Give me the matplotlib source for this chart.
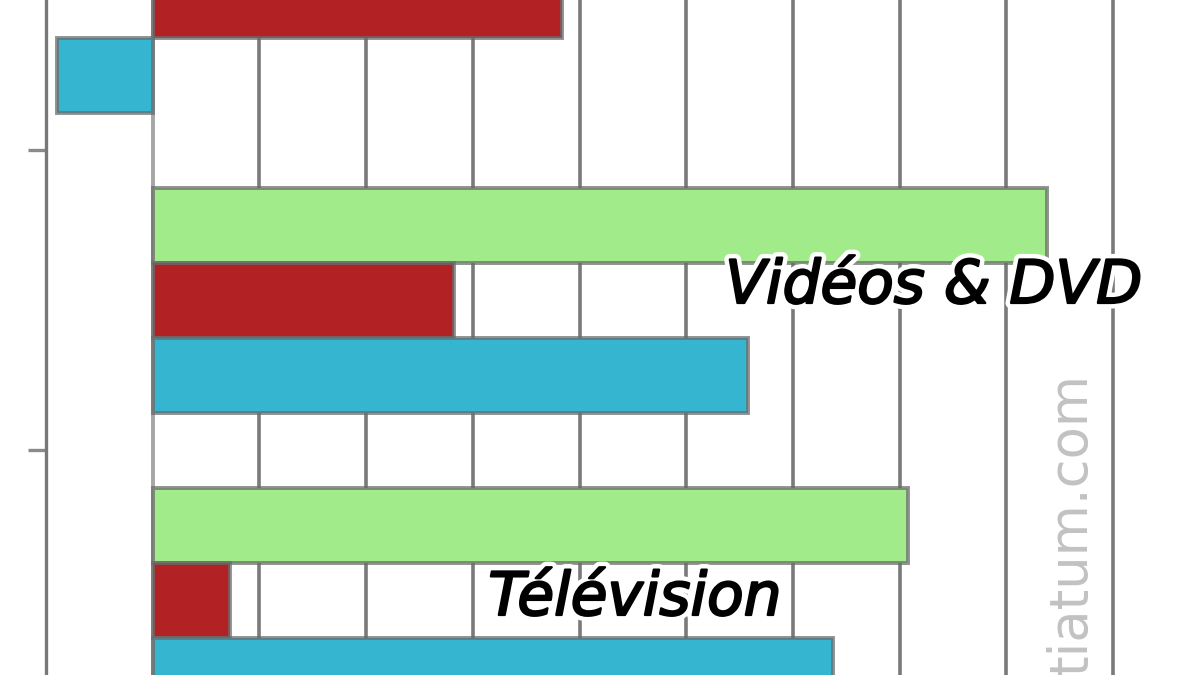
import numpy as np
import matplotlib
matplotlib.use('Agg')
import matplotlib.pyplot as plt
import matplotlib.patheffects as pe

plt.rcParams['font.family'] = ['DejaVu Sans']

# data (one grid step = 5 units), top group is mostly cut off
categories = ['', 'Vidéos & DVD', 'Télévision']
green_vals = [np.nan, 41.9, 35.4]
red_vals = [19.2, 14.1, 3.6]
cyan_vals = [-4.5, 27.9, 31.9]
watermark = 'tiatum.com'

green = '#a1eb8b'
red = '#b22224'
cyan = '#35b5d0'
edge = (0.42, 0.42, 0.42, 0.75)

fig = plt.figure(figsize=(12, 6.75), dpi=100)
# axes start at the left spine and run past the right edge of the figure
ax = fig.add_axes([46/1200, 0, 1.0, 1.0])
px_per_unit = 106.7/5
ax.set_xlim(-5, -5 + 1200/px_per_unit)
ax.set_ylim(2.25, 0)

y = np.arange(len(categories))
h = 0.25
ax.barh(y - h, green_vals, height=h, color=green, edgecolor=edge, linewidth=2.8, zorder=3)
ax.barh(y, red_vals, height=h, color=red, edgecolor=edge, linewidth=2.8, zorder=3)
ax.barh(y + h, cyan_vals, height=h, color=cyan, edgecolor=edge, linewidth=2.8, zorder=3)

#grid behind bars
ax.set_xticks(np.arange(5, 50, 5))
ax.grid(axis='x', color='#7a7a7a', linewidth=2.6, zorder=1)
ax.set_axisbelow(True)
ax.axvline(0, color='#a6a6a6', linewidth=2.8, zorder=2)
ax.tick_params(axis='x', length=0, labelbottom=False)

ax.set_yticks(y[:-1] + 0.5)
ax.tick_params(axis='y', length=13, width=2.4, color='#8a8a8a', direction='out', labelleft=False)
for s in ['top', 'right', 'bottom']:
    ax.spines[s].set_visible(False)
ax.spines['left'].set_color('#787878')
ax.spines['left'].set_linewidth(2.4)

# category labels between green and red bars
label_pos = {1: (36.6, 1.01), 2: (22.6, 2.05)}
for i, (lx, ly) in label_pos.items():
    ax.text(lx, ly, categories[i], fontsize=43, style='italic', color='black',
            ha='center', va='baseline', zorder=5,
            path_effects=[pe.withStroke(linewidth=8, foreground='white'),
                          pe.withStroke(linewidth=1.6, foreground='black')])

fig.text(1072/1200, 1 - 373/675, watermark, rotation=90, ha='center', va='top',
         fontsize=38, color='#c2c2c2')

fig.savefig('out.png', dpi=100)
